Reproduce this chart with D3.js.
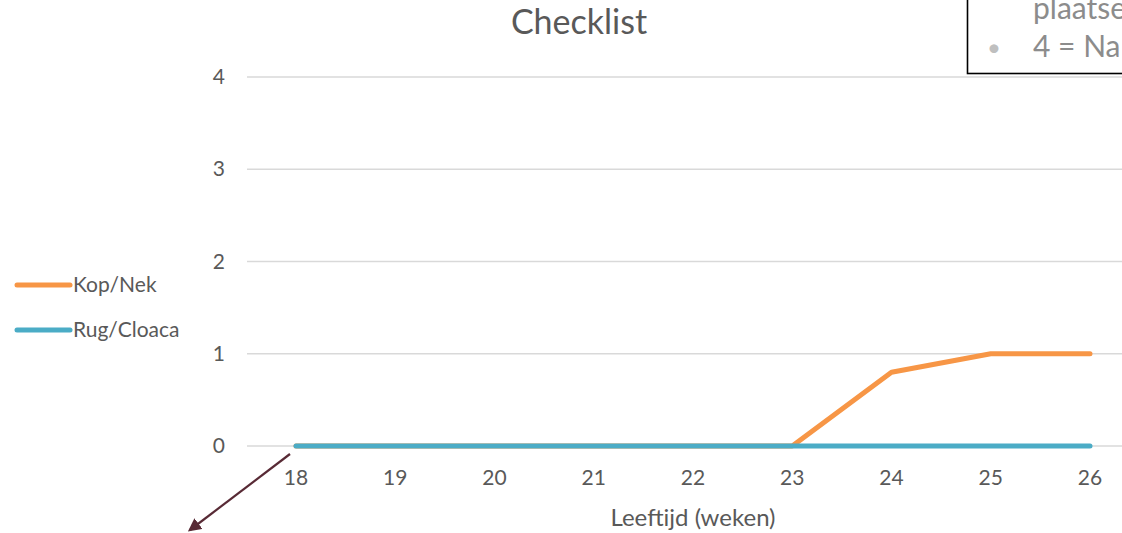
<!DOCTYPE html>
<html><head><meta charset="utf-8">
<script src="https://cdn.jsdelivr.net/npm/d3@7"></script>
<style>body{margin:0;background:#fff;overflow:hidden}</style>
</head><body>
<script>
const weeks = [18,19,20,21,22,23,24,25,26];
const kopNek = [0,0,0,0,0,0,0.8,1,1];
const rugCloaca = [0,0,0,0,0,0,0,0,0];
const yTicks = [0,1,2,3,4];
const seriesNames = ["Kop/Nek","Rug/Cloaca"];
const colors = ["#f79646","#4bacc6"];
const font = "Lato, 'Open Sans', sans-serif";

const W=1122,H=533;
const svg=d3.select("body").append("svg").attr("width",W).attr("height",H).style("font-family",font);

const x=d3.scalePoint().domain(weeks).range([296,1090]);
const y=d3.scaleLinear().domain([0,4]).range([446,77]);

svg.append("g").selectAll("line").data(yTicks).join("line")
  .attr("x1",247).attr("x2",W+20).attr("y1",d=>y(d)).attr("y2",d=>y(d))
  .attr("stroke","#d9d9d9").attr("stroke-width",1.3);

svg.append("g").selectAll("text").data(yTicks).join("text")
  .attr("x",225).attr("y",d=>y(d)+7).attr("text-anchor","end")
  .attr("font-size",21).attr("fill","#595959").text(d=>d);

svg.append("g").selectAll("text").data(weeks).join("text")
  .attr("x",d=>x(d)).attr("y",485).attr("text-anchor","middle")
  .attr("font-size",21).attr("fill","#595959").text(d=>d);

svg.append("text").attr("x",693).attr("y",526).attr("text-anchor","middle")
  .attr("font-size",24).attr("fill","#595959").text("Leeftijd (weken)");

svg.append("text").attr("x",579).attr("y",34).attr("text-anchor","middle")
  .attr("font-size",34).attr("fill","#595959").text("Checklist");

const line=d3.line().x((d,i)=>x(weeks[i])).y(d=>y(d));
[kopNek,rugCloaca].forEach((s,i)=>{
  svg.append("path").datum(s).attr("d",line).attr("fill","none")
    .attr("stroke",colors[i]).attr("stroke-width",5).attr("stroke-linecap","round").attr("stroke-linejoin","round");
});

const lg=svg.append("g");
seriesNames.forEach((n,i)=>{
  const yy=285+i*45;
  lg.append("line").attr("x1",17).attr("x2",70).attr("y1",yy).attr("y2",yy)
    .attr("stroke",colors[i]).attr("stroke-width",5).attr("stroke-linecap","round");
  lg.append("text").attr("x",73).attr("y",yy+7).attr("font-size",21).attr("fill","#595959").text(n);
});

const defs=svg.append("defs");
defs.append("marker").attr("id","ah").attr("viewBox","0 0 10 10").attr("refX",8).attr("refY",5)
  .attr("markerWidth",6).attr("markerHeight",6).attr("orient","auto")
  .append("path").attr("d","M0,0L10,5L0,10z").attr("fill","#582a35");
svg.append("line").attr("x1",290).attr("y1",454).attr("x2",190).attr("y2",530)
  .attr("stroke","#582a35").attr("stroke-width",2.2).attr("marker-end","url(#ah)");

const bx=svg.append("g");
bx.append("rect").attr("x",967.5).attr("y",-10).attr("width",200).attr("height",83.5)
  .attr("fill","#fff").attr("stroke","#000").attr("stroke-width",1.6);
bx.append("text").attr("x",1033).attr("y",19).attr("font-size",30).attr("fill","#8c8c8c").text("plaatsen");
bx.append("text").attr("x",987).attr("y",56).attr("font-size",24).attr("fill","#bfbfbf").text("•");
bx.append("text").attr("x",1033).attr("y",57).attr("font-size",30).attr("fill","#8c8c8c").attr("xml:space","preserve").text("4 = Na");
</script>
</body></html>
